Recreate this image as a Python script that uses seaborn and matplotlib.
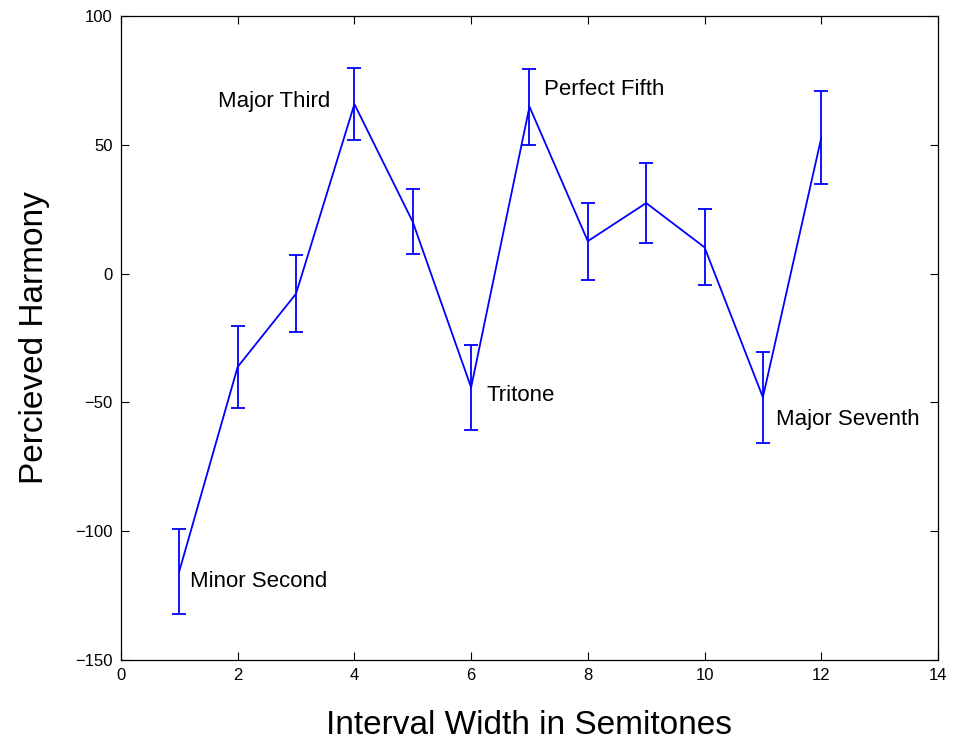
import matplotlib
matplotlib.use("Agg")
import matplotlib.pyplot as plt
import seaborn as sns
import pandas as pd

# Mean perceived harmony per interval width, with error half-widths
semitones = [1, 2, 3, 4, 5, 6, 7, 8, 9, 10, 11, 12]
harmony = [-115.5, -36.2, -7.8, 65.8, 20.1, -44.2, 64.8, 12.6, 27.4, 10.2, -48.0, 52.7]
error = [16.5, 16.0, 15.0, 14.0, 12.6, 16.5, 14.8, 15.0, 15.7, 14.8, 17.6, 18.0]

labels = ["Minor Second", "Major Third", "Tritone", "Perfect Fifth", "Major Seventh"]
label_x = [1.18, 3.58, 6.27, 7.25, 11.22]
label_y = [-119.5, 67.0, -47.5, 71.3, -56.8]
label_ha = ["left", "right", "left", "left", "left"]

xticks = [0, 2, 4, 6, 8, 10, 12, 14]
yticks = [-150, -100, -50, 0, 50, 100]

df = pd.DataFrame({"semitones": semitones, "harmony": harmony, "error": error})

sns.set_theme(style="ticks")
plt.rcParams["font.family"] = ["Liberation Sans", "DejaVu Sans"]
plt.rcParams["text.color"] = "black"
plt.rcParams["axes.labelcolor"] = "black"

fig = plt.figure(figsize=(9.54, 7.48), dpi=100)
ax = fig.add_axes([0.1268, 0.1176, 0.8564, 0.861])

blue = (0.0, 0.0, 1.0)
ax.errorbar(df["semitones"], df["harmony"], yerr=df["error"], fmt="none",
            ecolor=blue, elinewidth=1.3, capsize=4.7, capthick=1.3, zorder=2)
sns.lineplot(data=df, x="semitones", y="harmony", color=blue, linewidth=1.3,
             ax=ax, zorder=3)

for txt, x, y, ha in zip(labels, label_x, label_y, label_ha):
    ax.text(x, y, txt, fontsize=16, ha=ha, va="center", color="black")

ax.set_xlim(0, 14)
ax.set_ylim(-150, 100)
ax.set_xticks(xticks)
ax.set_yticks(yticks)
ax.set_xticklabels([str(t) for t in xticks])
ax.set_yticklabels([str(t).replace("-", "\u2212") for t in yticks])

ax.tick_params(axis="both", which="both", direction="in", length=5.5, width=0.8,
               top=True, right=True, labelsize=12, colors="black", pad=6)
for side in ["top", "right", "bottom", "left"]:
    ax.spines[side].set_visible(True)
    ax.spines[side].set_linewidth(0.9)
    ax.spines[side].set_color("black")

ax.set_xlabel("Interval Width in Semitones", fontsize=24, labelpad=19, color="black")
ax.set_ylabel("Percieved Harmony", fontsize=24, labelpad=18, color="black")

fig.savefig("out.png", dpi=100, facecolor="white")
